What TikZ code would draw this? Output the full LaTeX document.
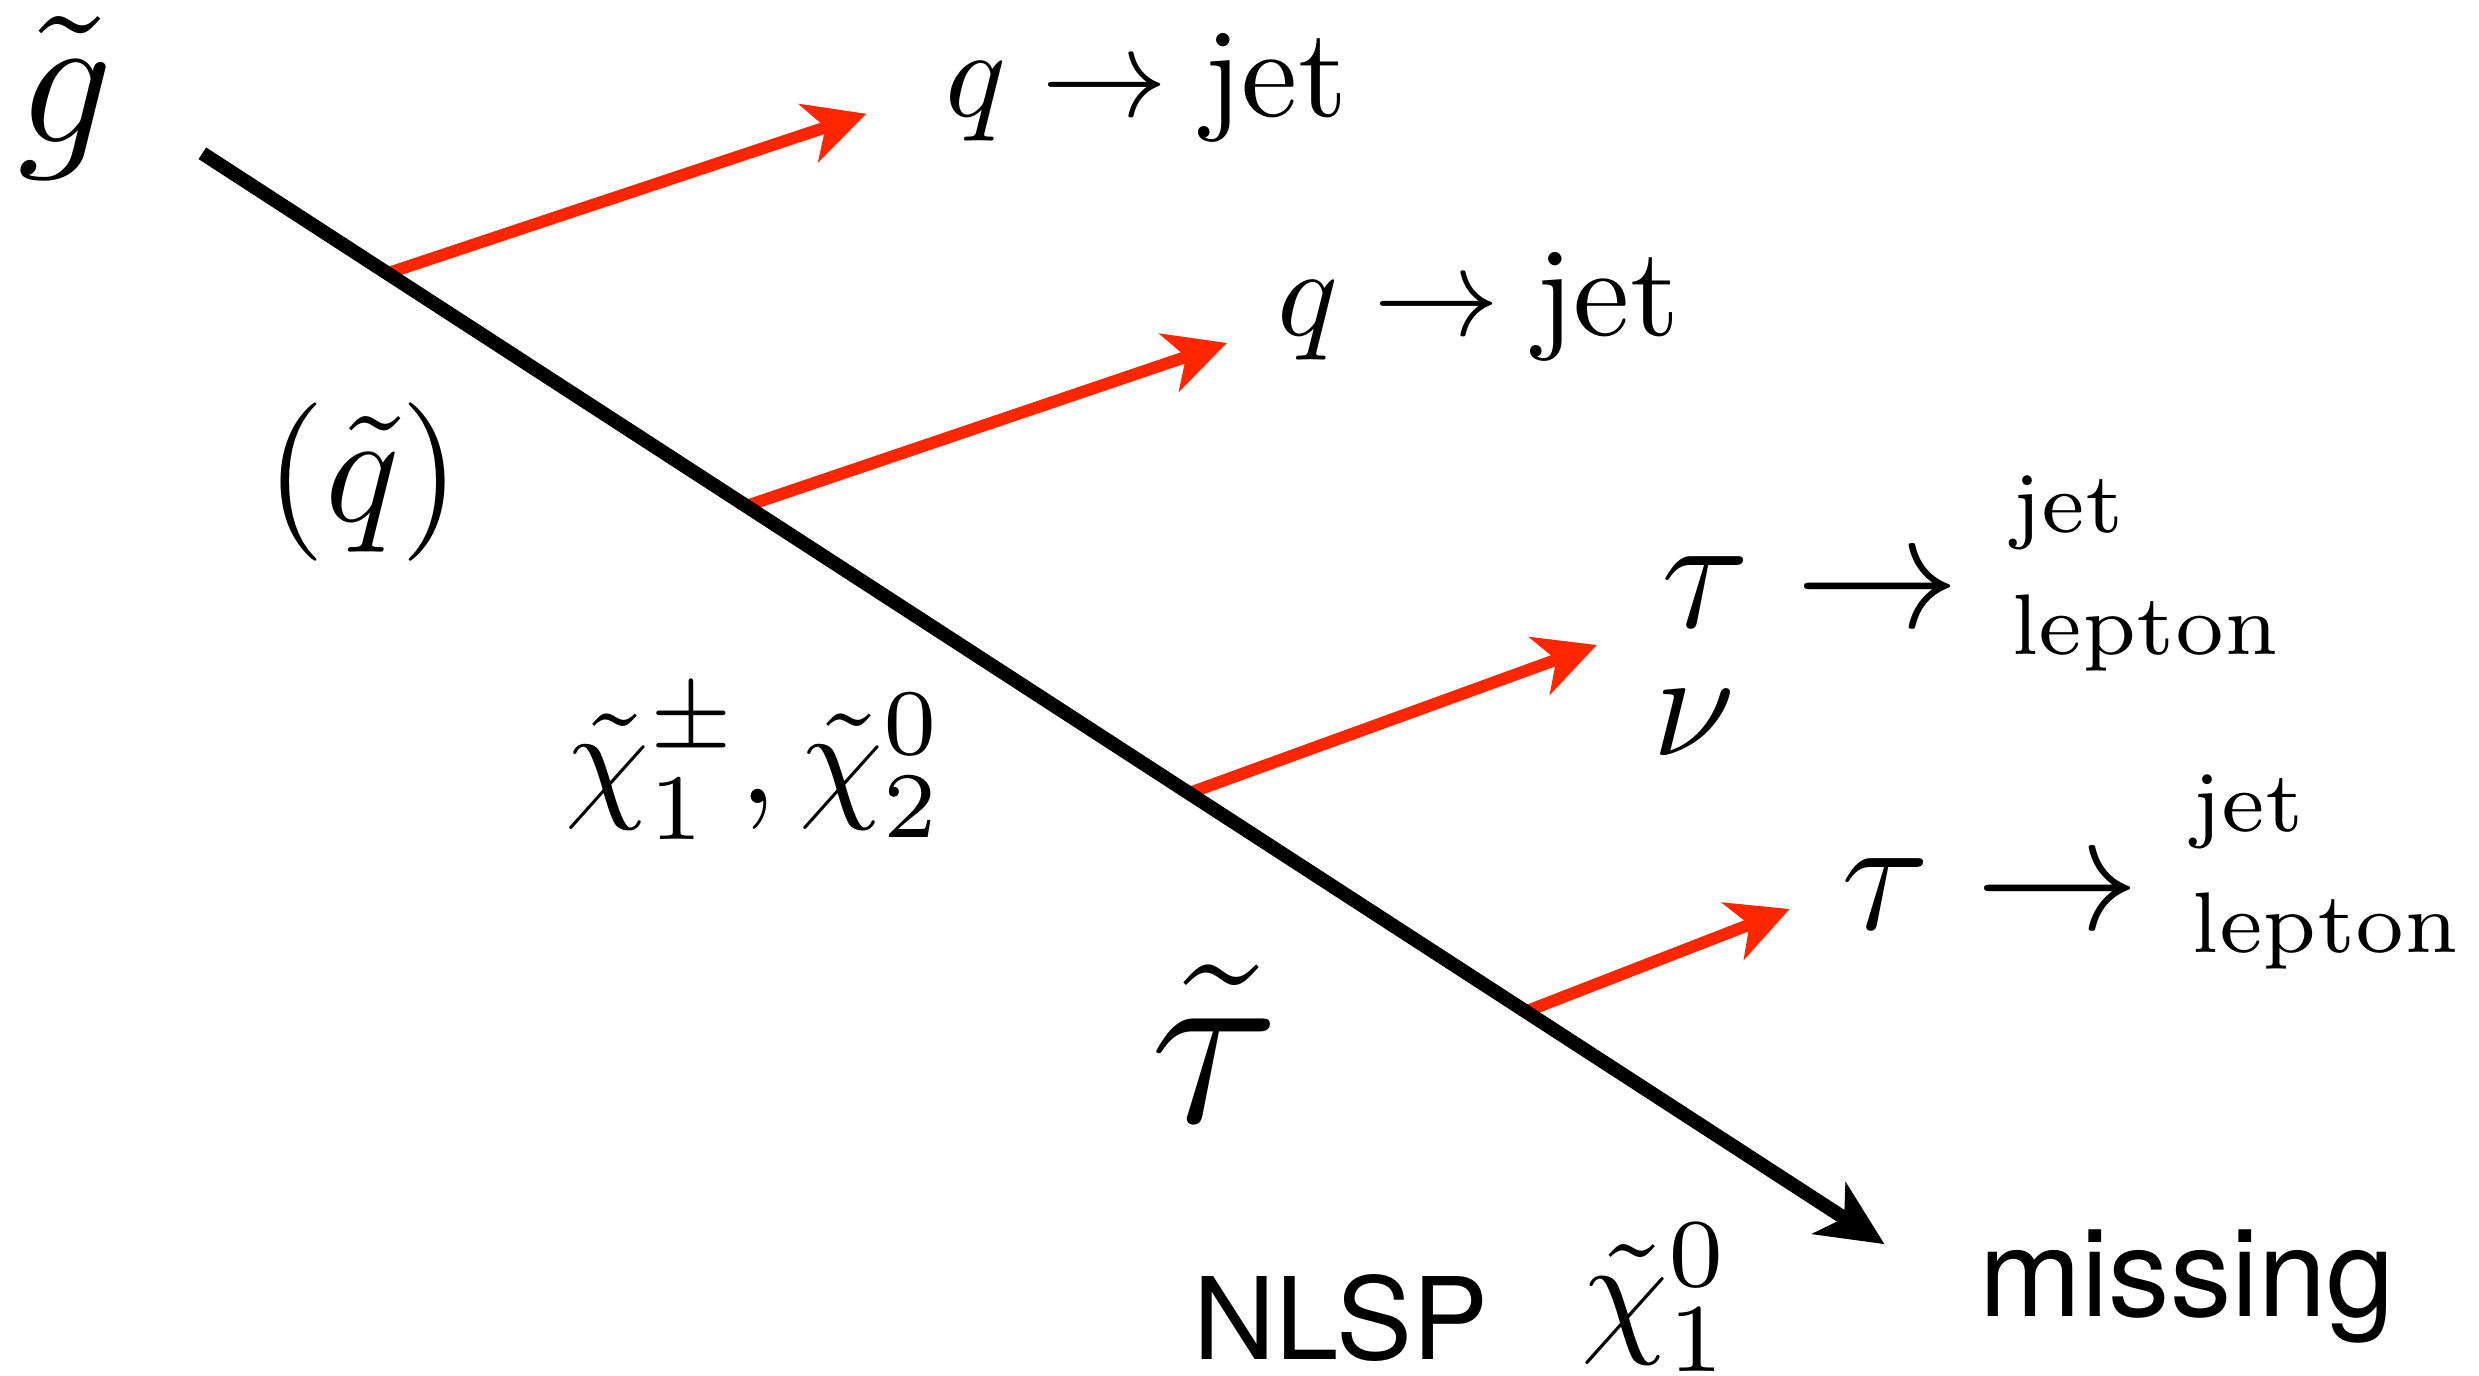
\RequirePackage{fix-cm}
\documentclass[tikz,border=0pt]{standalone}
\usepackage{amsmath}
\usepackage{fontspec}
\setsansfont{TeX Gyre Heros}
\usepackage{tikz}
\usetikzlibrary{arrows.meta, calc}
\definecolor{decayred}{RGB}{255,38,0}

\begin{document}
\begin{tikzpicture}[
  x=0.125pt, y=-0.125pt,
  lbl/.style={
    inner sep=0pt,
    outer sep=0pt,
    anchor=base west
  },
  chain/.style={
    draw=black,
    line width=1.1pt,
    -{Stealth[length=5.2pt, width=4.8pt, inset=1.4pt]}
  },
  decay/.style={
    draw=decayred,
    line width=0.95pt,
    -{Stealth[length=4.8pt, width=4.8pt, inset=1.4pt]}
  }
]
\useasboundingbox (0,0) rectangle (1568,870);

% Cascade line
\coordinate (gluino) at (128,97);
\coordinate (lsp) at (1192,787);
\coordinate (v1) at ($(gluino)!0.110!(lsp)$);
\coordinate (v2) at ($(gluino)!0.3233!(lsp)$);
\coordinate (v3) at ($(gluino)!0.5865!(lsp)$);
\coordinate (v4) at ($(gluino)!0.7867!(lsp)$);

% Decay products
\coordinate (q1end) at (548,72);
\coordinate (q2end) at (776,217);
\coordinate (tau1end) at (1010,408);
\coordinate (tau2end) at (1132,575);

\draw[decay] (v1) -- (q1end);
\draw[decay] (v2) -- (q2end);
\draw[decay] (v3) -- (tau1end);
\draw[decay] (v4) -- (tau2end);
\draw[chain] (gluino) -- (lsp);

% Sparticles
\node[lbl, font=\fontsize{15}{18}\selectfont] (gluinolbl) at (11,90)
{$\tilde{g}$};

\node[lbl, font=\fontsize{12.5}{15}\selectfont] (squark) at (168,330)
{$(\tilde{q})$};

\node[lbl, font=\fontsize{10.6}{13}\selectfont] (chargino) at (358,508)
{$\tilde{\chi}_1^{\pm}, \tilde{\chi}_2^0$};

\node[lbl, font=\fontsize{19}{23}\selectfont] (stau) at (728,710)
{$\tilde{\tau}$};

\node[lbl, font=\sffamily\fontsize{9}{11}\selectfont] (nlsp) at (755,860)
{NLSP};

\node[lbl, font=\fontsize{11}{13}\selectfont] (neutralino) at (1000,846)
{$\tilde{\chi}_1^0$};

\node[lbl, font=\sffamily\fontsize{9.7}{11}\selectfont] (missing) at (1252,833)
{missing};

% Visible products
\node[lbl, font=\fontsize{10}{12}\selectfont] (quark1) at (598,74)
{$q \to \text{jet}$};

\node[lbl, font=\fontsize{10}{12}\selectfont] (quark2) at (808,212)
{$q \to \text{jet}$};

\node[lbl, font=\fontsize{13}{15}\selectfont] (tau1) at (1051,397)
{$\tau \to$};

\node[lbl, font=\fontsize{6.8}{9.6}\selectfont, align=left, anchor=north west] (tau1out) at (1272,301)
{jet\\lepton};

\node[lbl, font=\fontsize{12}{14}\selectfont] (nu) at (1045,478)
{$\nu$};

\node[lbl, font=\fontsize{13}{15}\selectfont] (tau2) at (1165,588)
{$\tau \to$};

\node[lbl, font=\fontsize{6.8}{9.6}\selectfont, align=left, anchor=north west] (tau2out) at (1386,490)
{jet\\lepton};

\end{tikzpicture}
\end{document}
